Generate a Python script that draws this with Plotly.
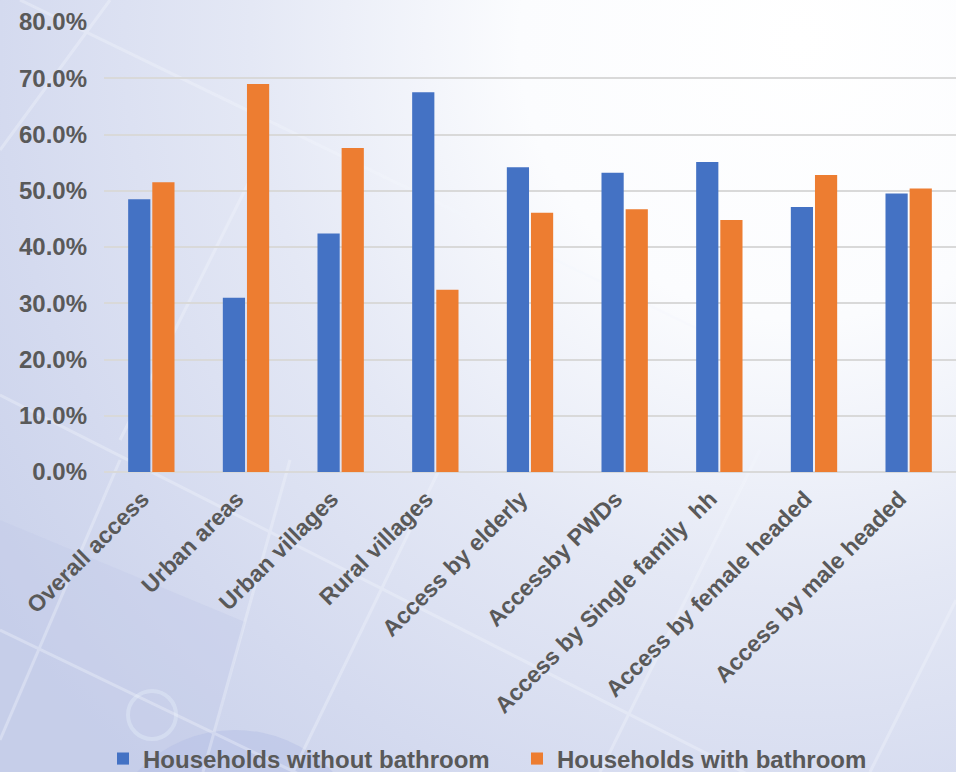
import base64
import plotly.graph_objects as go

# Access to bathrooms by household group
categories = [
    "Overall access",
    "Urban areas",
    "Urban villages",
    "Rural villages",
    "Access by elderly",
    "Accessby PWDs",
    "Access by Single family  hh",
    "Access by female headed",
    "Access by male headed",
]
without_bathroom = [0.485, 0.310, 0.424, 0.675, 0.542, 0.532, 0.551, 0.471, 0.495]
with_bathroom = [0.515, 0.690, 0.576, 0.324, 0.461, 0.467, 0.448, 0.528, 0.504]
series_names = ["Households without bathroom", "Households with bathroom"]
y_ticks = [0.0, 0.1, 0.2, 0.3, 0.4, 0.5, 0.6, 0.7, 0.8]

BLUE = "#4472C4"
ORANGE = "#ED7D31"
TEXT = "#595959"
FONT = "Liberation Sans, Arial, sans-serif"

W, H = 956, 772
L, R, T, B = 104, 0, 22, 300

# Soft blue backdrop with faint light streaks
svg = f"""<svg xmlns='http://www.w3.org/2000/svg' width='{W}' height='{H}' viewBox='0 0 {W} {H}'>
<defs>
<radialGradient id='g' cx='800' cy='40' r='1000' gradientUnits='userSpaceOnUse'>
<stop offset='0' stop-color='#ffffff'/>
<stop offset='0.28' stop-color='#fbfcfe'/>
<stop offset='0.55' stop-color='#e4e8f5'/>
<stop offset='0.8' stop-color='#d4daef'/>
<stop offset='1' stop-color='#c8d0ea'/>
</radialGradient>
</defs>
<rect width='{W}' height='{H}' fill='url(#g)'/>
<polygon points='0,520 245,622 205,772 0,772' fill='#c2cae9' opacity='0.4'/>
<circle cx='235' cy='865' r='135' fill='#b6c0e6' opacity='0.5'/>
<circle cx='152' cy='715' r='24' fill='none' stroke='#e3ebf8' stroke-width='4' opacity='0.45'/>
<g stroke='#f4f7fd' stroke-width='3' opacity='0.35' fill='none'>
<line x1='0' y1='395' x2='956' y2='880'/>
<line x1='0' y1='630' x2='560' y2='900'/>
<line x1='20' y1='0' x2='700' y2='330'/>
<line x1='0' y1='150' x2='110' y2='0'/>
<line x1='0' y1='740' x2='120' y2='460'/>
<line x1='203' y1='772' x2='290' y2='460'/>
<line x1='293' y1='772' x2='440' y2='468'/>
<line x1='600' y1='772' x2='760' y2='450'/>
<line x1='870' y1='772' x2='956' y2='600'/>
<line x1='120' y1='440' x2='260' y2='160'/>
</g>
</svg>"""
bg_uri = "data:image/svg+xml;base64," + base64.b64encode(svg.encode()).decode()

plot_w = W - L - R
plot_h = H - T - B

fig = go.Figure()
fig.add_trace(go.Bar(x=categories, y=without_bathroom, name=series_names[0],
                     marker=dict(color=BLUE, line=dict(width=0))))
fig.add_trace(go.Bar(x=categories, y=with_bathroom, name=series_names[1],
                     marker=dict(color=ORANGE, line=dict(width=0))))

fig.update_layout(
    width=W, height=H,
    margin=dict(l=L, r=R, t=T, b=B, pad=0),
    paper_bgcolor="#e4e8f5",
    plot_bgcolor="rgba(0,0,0,0)",
    barmode="group",
    bargap=0.49,
    bargroupgap=0.08,
    font=dict(family=FONT, color=TEXT, size=20),
    images=[dict(source=bg_uri, xref="paper", yref="paper",
                 x=-L / plot_w, y=1 + T / plot_h,
                 sizex=W / plot_w, sizey=H / plot_h,
                 xanchor="left", yanchor="top", sizing="stretch",
                 layer="below")],
    xaxis=dict(
        tickangle=-45,
        tickfont=dict(family=FONT, size=23, color=TEXT, weight="bold"),
        showgrid=False, zeroline=False, showline=False, ticks="",
        ticklabelstandoff=8,
        ticklabelshift=-9,
    ),
    yaxis=dict(
        range=[0, 0.8],
        tickvals=y_ticks,
        tickformat=".1%",
        tickfont=dict(family=FONT, size=24, color=TEXT, weight="bold"),
        showgrid=True, gridcolor="#d9d9d9", gridwidth=2,
        zeroline=True, zerolinecolor="#d9d9d9", zerolinewidth=2,
        showline=False, ticks="",
        ticklabelstandoff=16,
    ),
    legend=dict(
        orientation="h",
        xref="container", yref="container",
        x=103 / W, y=(H - 759) / H,
        xanchor="left", yanchor="middle",
        font=dict(family=FONT, size=24, color=TEXT, weight="bold"),
        bgcolor="rgba(0,0,0,0)",
        entrywidth=369, entrywidthmode="pixels",
        itemwidth=30,
    ),
)

fig.write_html("out.html")
